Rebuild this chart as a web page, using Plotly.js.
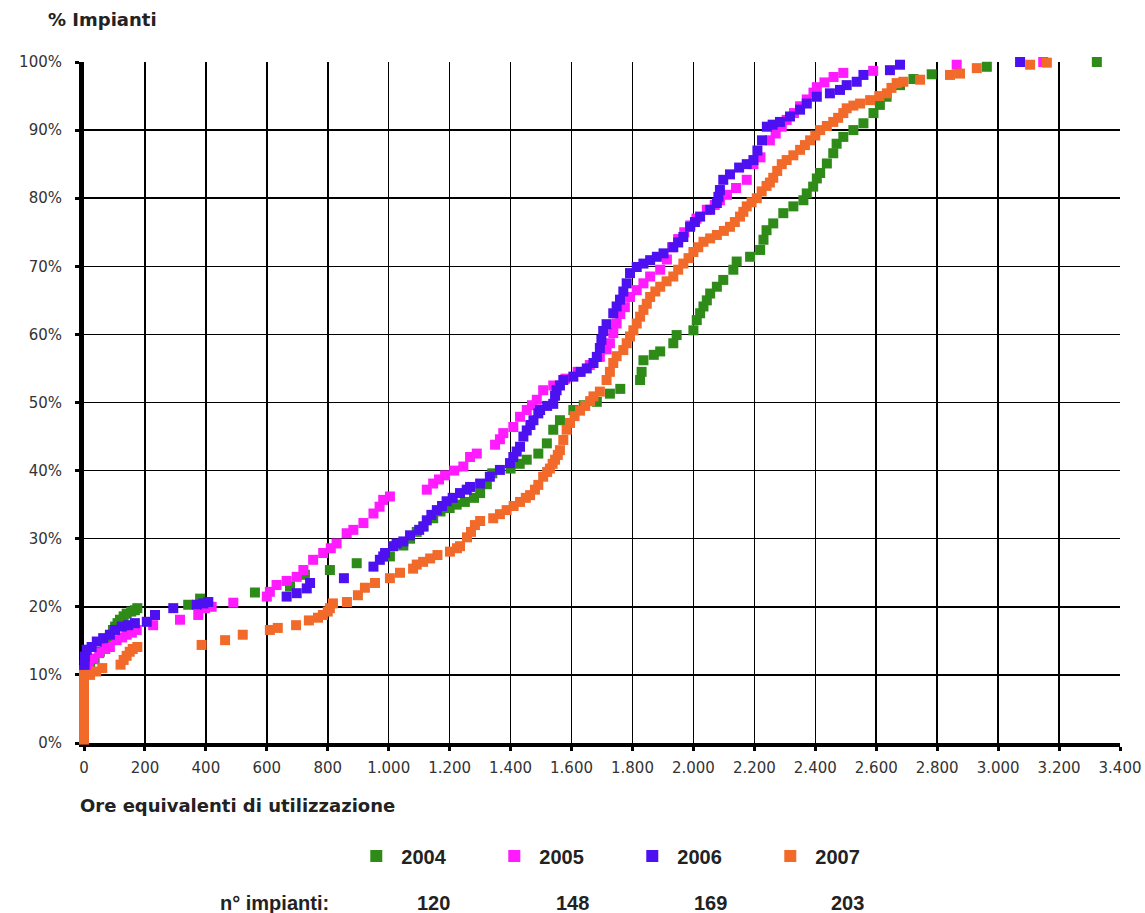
<!DOCTYPE html>
<html>
<head>
<meta charset="utf-8">
<script src="https://cdn.plot.ly/plotly-3.0.1.min.js"></script>
<style>html,body{margin:0;padding:0;background:#fff;}#chart{width:1145px;height:913px;}</style>
</head>
<body>
<div id="chart"></div>
<script>
// Series names and plant counts
const years = ['2004', '2005', '2006', '2007'];
const plantCounts = ['120', '148', '169', '203'];
const colors = ['#2e8b17', '#ff1aff', '#4d10f0', '#f26a2a'];

// Axis ticks
const xTicks = [0,200,400,600,800,1000,1200,1400,1600,1800,2000,2200,2400,2600,2800,3000,3200,3400];
const yTicks = [0,10,20,30,40,50,60,70,80,90,100];
const yTickLabels = ['0%','10%','20%','30%','40%','50%','60%','70%','80%','90%','100%'];

// 2004 - hours (x) and cumulative % of plants (y)
const hours2004 = [0,0,0,0,20,35,52,70,85,95,102,110,118,130,140,155,167,175,
  342,381,561,676,725,807,895,1004,1048,1070,1092,1114,1146,1170,1200,1223,1250,1280,1300,1322,1340,
  1400,1430,1453,1491,1519,1540,1562,1606,1640,1683,1726,1760,1825,1830,1836,1870,1891,1934,1945,
  2000,2011,2022,2033,2044,2055,2077,2098,2131,2142,2186,2219,2230,2240,2262,2295,2328,2361,2372,
  2393,2405,2416,2438,2459,2470,2492,2525,2558,2591,2612,2634,2678,2722,2782,2963,3324];
const pct2004 = [2.5,5,7.5,10,11.2,12.3,13.4,14.6,15.6,16.6,17.1,17.6,18.1,18.6,19.0,19.3,19.5,19.8,
  20.3,21.2,22.1,23.0,24.7,25.4,26.4,27.4,29.0,30.0,31.0,31.8,33.0,34.0,34.5,35.0,35.4,36.0,36.7,38.0,39.6,
  40.3,41.0,41.6,42.5,44.0,46.0,47.4,48.9,49.6,50.1,51.3,52.0,53.3,54.5,56.2,57.0,57.5,58.7,59.9,
  60.6,62.1,63.1,64.1,65.0,66.0,67.0,68.0,69.5,70.7,71.4,72.4,73.9,75.3,76.3,77.8,78.8,79.7,80.7,
  81.7,82.9,83.7,85.1,86.6,88.0,89.0,90.0,91.0,92.5,93.7,94.9,96.6,97.5,98.2,99.3,100];

// 2005
const hours2005 = [0,0,0,0,15,31,50,70,85,107,125,140,157,173,227,315,375,397,419,490,
  600,610,632,665,698,720,752,785,810,829,862,884,917,950,970,982,1004,
  1125,1146,1165,1185,1215,1245,1267,1289,1349,1365,1376,1409,1431,1453,1470,1486,1507,
  1540,1580,1620,1660,1693,1715,1726,1737,1748,1760,1775,1792,1814,1836,1858,1891,1913,1930,1950,1970,1990,
  2010,2044,2070,2087,2110,2140,2175,2197,2220,2251,2270,2290,2306,2330,2350,2372,2394,2405,2430,2460,2492,
  2590,2864,3148];
const pct2005 = [2.5,5,7.5,10,11.0,12.4,13.2,13.8,14.1,15.1,15.5,15.9,16.2,16.6,17.3,18.1,18.8,19.8,20.0,20.6,
  21.5,22.2,23.2,23.8,24.4,25.4,26.9,27.9,28.6,29.3,30.8,31.3,32.3,33.7,34.7,35.7,36.2,
  37.2,38.1,38.7,39.3,40.0,40.6,42.0,42.5,43.8,44.6,45.5,46.4,47.9,48.9,49.6,50.4,51.8,
  52.5,53.5,54.5,55.5,56.7,57.8,58.7,60.2,61.6,63.0,64.0,65.5,66.5,67.5,68.5,69.5,71.0,72.8,74.0,75.0,76.0,
  77.0,78.3,79.0,79.7,80.5,81.5,82.7,85.0,86.0,88.5,89.5,90.5,91.5,92.5,93.5,94.5,95.5,96.3,97.0,97.8,98.4,
  98.7,99.6,100];

// 2006
const hours2006 = [0,0,0,0,0,2,3,9,25,42,63,85,102,124,145,167,206,233,293,370,392,408,
  665,698,731,742,853,950,971,982,988,1015,1026,1048,1070,1100,1114,1125,1140,1158,1175,1190,1210,1234,1256,1267,
  1300,1332,1365,1398,1409,1420,1431,1442,1453,1465,1475,1491,1497,1520,1540,1546,1551,1562,1573,1606,1630,1650,
  1672,1683,1693,1698,1704,1715,1737,1748,1759,1770,1781,1792,1814,1836,1858,1880,1902,1934,1950,1967,1989,
  2005,2022,2055,2077,2082,2087,2098,2120,2150,2175,2197,2210,2225,2241,2260,2284,2317,2350,2372,2405,
  2448,2481,2503,2536,2558,2645,2678,3072];
const pct2006 = [2.5,5,7.5,10,10.7,11.5,12.7,13.7,14.1,14.9,15.4,15.9,16.6,17.1,17.3,17.6,17.8,18.8,19.8,20.3,20.5,20.7,
  21.5,22.0,22.7,23.5,24.2,25.9,26.9,27.4,27.9,28.9,29.3,29.6,30.5,31.3,31.8,32.7,33.5,34.2,34.8,35.5,36.0,36.7,37.2,37.6,
  38.1,39.1,40.1,41.1,42.0,42.8,43.5,45.0,45.9,46.7,47.4,48.4,48.9,49.5,49.8,51.0,51.8,52.5,53.3,53.8,54.5,55.0,
  55.8,56.7,58.0,59.2,60.5,61.5,63.1,64.1,65.1,66.3,67.5,69.0,69.9,70.4,70.9,71.4,71.9,72.8,73.5,74.3,75.8,
  76.5,77.3,78.3,79.3,80.2,81.2,82.7,83.5,84.5,85.0,85.6,87.0,88.5,90.5,90.8,91.2,92.0,93.0,93.9,94.9,
  95.4,95.9,96.6,97.1,98.1,98.8,99.6,100];

// 2007
const hours2007 = [0,0,0,0,0,0,0,0,0,0,0,0,0,0,0,0,0,0,0,0,20,40,60,
  120,130,140,150,160,175,386,463,521,610,636,696,738,768,784,800,807,817,863,899,922,955,
  1004,1037,1080,1092,1113,1136,1160,1201,1224,1234,1257,1270,1283,1300,1343,1365,1387,1410,1431,1450,1464,1480,1491,
  1507,1520,1529,1538,1546,1555,1562,1573,1584,1595,1610,1628,1645,1661,1672,1693,1715,1726,1737,1748,1770,1781,
  1792,1803,1814,1825,1836,1847,1858,1875,1891,1912,1934,1950,1967,1984,2000,2016,2033,2055,2077,2100,2120,2136,
  2153,2164,2175,2191,2208,2224,2240,2251,2262,2275,2290,2306,2328,2350,2366,2383,2400,2416,2438,2459,2475,2492,
  2503,2525,2547,2580,2610,2635,2650,2667,2689,2744,2842,2875,2930,3105,3160];
const pct2007 = [0.5,1,1.5,2,2.5,3,3.5,4,4.5,5,5.5,6,6.5,7,7.5,8,8.5,9,9.5,10,10.0,10.5,11.0,
  11.5,12.2,12.8,13.4,13.8,14.1,14.4,15.1,15.9,16.6,16.9,17.3,18.0,18.4,18.8,19.3,19.8,20.5,20.7,21.7,22.8,23.5,
  24.2,25.0,25.6,26.2,26.6,27.1,27.6,28.1,28.6,28.9,30.2,31.0,32.0,32.6,33.0,33.6,34.2,34.8,35.4,36.0,36.4,37.2,37.9,
  39.1,39.8,40.3,41.0,41.6,42.3,43.0,44.5,46.0,47.0,48.0,48.8,49.5,50.2,50.9,51.6,53.3,54.5,55.8,56.8,57.7,58.7,
  59.7,60.6,61.6,62.6,63.6,64.5,65.5,66.3,67.0,67.8,68.5,69.5,70.4,71.2,72.1,72.8,73.6,74.1,74.6,75.2,75.8,76.5,
  77.3,78.0,78.8,79.4,80.0,81.0,81.8,82.3,83.0,84.0,85.0,85.6,86.3,87.1,87.8,88.5,89.2,90.0,90.6,91.2,91.8,92.5,
  93.2,93.6,93.9,94.4,95.0,95.4,96.2,96.9,97.1,97.4,98.1,98.3,99.1,99.6,99.9];

const xs = [hours2004, hours2005, hours2006, hours2007];
const ys = [pct2004, pct2005, pct2006, pct2007];

const traces = years.map((yr, i) => ({
  type: 'scatter',
  mode: 'markers',
  name: yr,
  x: xs[i],
  y: ys[i],
  cliponaxis: false,
  marker: {symbol: 'square', size: 10, color: colors[i], line: {width: 0}}
}));

const labelFont = {family: 'DejaVu Sans, Verdana, sans-serif', size: 15, color: '#333'};
const boldFont = {family: 'DejaVu Sans, Verdana, sans-serif', size: 18, color: '#222', weight: 'bold'};
const legFont = {family: 'Liberation Sans, Arial, sans-serif', size: 20, color: '#222', weight: 'bold'};

const countX = [0.337, 0.472, 0.605, 0.737];
const annotations = [
  {text: '% Impianti', xref: 'paper', yref: 'paper', x: -0.037, y: 1.062, xanchor: 'left', yanchor: 'middle', showarrow: false, font: boldFont},
  {text: 'Ore equivalenti di utilizzazione', xref: 'paper', yref: 'paper', x: -0.006, y: -0.0925, xanchor: 'left', yanchor: 'middle', showarrow: false, font: boldFont},
  {text: 'n° impianti:', xref: 'paper', yref: 'paper', x: 0.184, y: -0.235, xanchor: 'center', yanchor: 'middle', showarrow: false, font: legFont}
].concat(plantCounts.map((c, i) => ({
  text: c, xref: 'paper', yref: 'paper', x: countX[i], y: -0.235, xanchor: 'center', yanchor: 'middle', showarrow: false, font: legFont
})));

const layout = {
  width: 1145, height: 913,
  margin: {l: 84, r: 25, t: 62, b: 170},
  paper_bgcolor: '#fff', plot_bgcolor: '#fff',
  separators: ',.',
  showlegend: true,
  hovermode: false,
  legend: {
    orientation: 'h', x: 0.258, y: -0.166, xanchor: 'left', yanchor: 'middle',
    font: legFont, entrywidth: 83, entrywidthmode: 'pixels', itemwidth: 40, itemsizing: 'constant',
    bgcolor: 'rgba(0,0,0,0)'
  },
  xaxis: {
    range: [0, 3400], tickmode: 'array', tickvals: xTicks, separatethousands: true, tickformat: ',d',
    showgrid: true, gridcolor: '#000', gridwidth: 1.5,
    showline: true, linecolor: '#000', linewidth: 4, layer: 'below traces',
    ticks: 'outside', ticklen: 4, tickwidth: 3, tickcolor: '#000',
    ticklabelstandoff: 4,
    tickfont: labelFont, zeroline: false, fixedrange: true
  },
  yaxis: {
    range: [0, 100], tickmode: 'array', tickvals: yTicks, ticktext: yTickLabels,
    showgrid: true, gridcolor: '#000', gridwidth: 1.5,
    showline: true, linecolor: '#000', linewidth: 5, layer: 'below traces',
    ticks: 'outside', ticklen: 4, tickwidth: 3, tickcolor: '#000',
    ticklabelstandoff: 10,
    tickfont: labelFont, zeroline: false, fixedrange: true
  },
  annotations: annotations
};

Plotly.newPlot('chart', traces, layout, {staticPlot: true, displayModeBar: false});
</script>
</body>
</html>
